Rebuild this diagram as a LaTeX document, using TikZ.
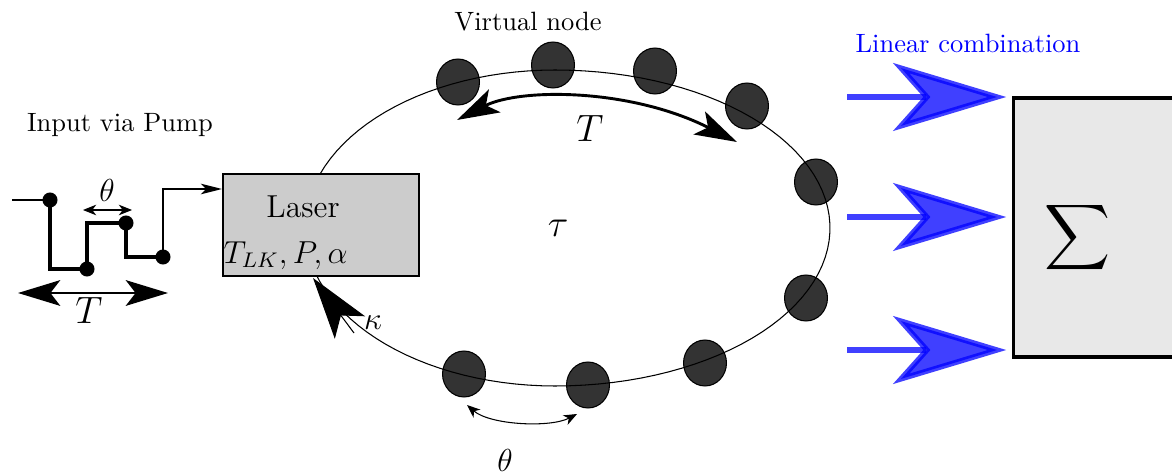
\documentclass[tikz,border=0pt]{standalone}
\usepackage{amsmath}
\usetikzlibrary{arrows.meta, shapes.geometric}
\tikzset{
  vnode/.style={ellipse, draw=black, fill=black!80, minimum width=0.57cm, minimum height=0.61cm, inner sep=0pt},
  joint/.style={circle, fill=black, minimum size=0.2cm, inner sep=0pt},
  pulse/.style={line width=1.4pt},
  ring/.style={thin},
  bigtip/.style={line width=1.1pt, {Stealth[length=0.56cm, width=0.34cm, inset=0.13cm]}-{Stealth[length=0.56cm, width=0.34cm, inset=0.13cm]}},
  smalltip/.style={{Stealth[length=5pt, width=4pt, inset=1.5pt]}-{Stealth[length=5pt, width=4pt, inset=1.5pt]}},
  readout/.style={blue, opacity=0.75, line width=2pt, shorten >=0.08cm, -{Stealth[length=1.5cm, width=0.9cm, inset=0.4cm]}}
}

\begin{document}
\begin{tikzpicture}[x=0.01328cm, y=-0.01328cm]
	\useasboundingbox (0,0) rectangle (1172,474);
	% virtual nodes on the delay loop
	\foreach \i/\px/\py in {1/458/82, 2/553/65, 3/655/71, 4/747/106, 5/816/182, 6/806/298, 7/705/363, 8/588/385, 9/464/374}
		\node[vnode] (v\i) at (\px,\py) {};
	\draw[ring] plot[domain=90:270, samples=60] ({555+250*cos(\x)}, {228+158*sin(\x)});
	\draw[ring] plot[domain=-90:90, samples=60] ({555+275*cos(\x)}, {228+158*sin(\x)});
	\node (vlabel) at (528,22) {Virtual node};
	\node (tau) at (558,228) {\Large $\tau$};
	% laser
	\node[draw, thick, fill=black!20, minimum width=2.6cm, minimum height=1.355cm, inner sep=0pt] (laser) at (321,225) {};
	\node[anchor=base] (lasername) at (303,217) {\large Laser};
	\node[anchor=base west, inner sep=0pt] (laserpar) at (223,263) {\large $T_{LK},P,\alpha$};
	% feedback
	\coordinate (kb) at (354,333);
	\coordinate (kt) at (313,278);
	\draw[ring, -{Stealth[length=0.82cm, width=0.5cm, inset=0.2cm]}] (kb) -- (kt);
	\node (kappa) at (373,323) {\large $\kappa$};
	% clock cycle and node spacing
	\coordinate (ra) at (457,120);
	\coordinate (rb) at (737,142);
	\draw[bigtip] (ra) .. controls (520,88) and (630,88) .. (rb);
	\node (Tloop) at (590,128) {\Large $T$};
	\coordinate (ba) at (467,405);
	\coordinate (bb) at (577,414);
	\draw[thin, smalltip] (ba) .. controls (490,425) and (550,428) .. (bb);
	\node (thloop) at (505,460) {\large $\theta$};
	% input
	\node (pump) at (120,125) {Input via Pump};
	\coordinate (pin) at (12,200);
	\coordinate (lasin) at (222,189);
	\foreach \i/\px/\py in {1/50/200, 2/87/269, 3/126/223, 4/163/257}
		\node[joint] (p\i) at (\px,\py) {};
	\draw[semithick] (pin) -- (p1.center);
	\draw[pulse] (p1.center) |- (p2.center) |- (p3.center) |- (p4.center);
	\draw[thick, -{Stealth[length=8pt, width=4pt, inset=2pt]}] (p4.center) |- (lasin);
	\coordinate (tha) at (83,210);
	\coordinate (thb) at (132,210);
	\draw[smalltip] (tha) -- (thb);
	\node (thin) at (107,190) {\large $\theta$};
	\coordinate (Ta) at (18,293);
	\coordinate (Tb) at (168,293);
	\draw[bigtip] (Ta) -- (Tb);
	\node (Tin) at (89,310) {\Large $T$};
	% readout
	\node[draw, line width=1.2pt, fill=black!9, minimum width=2.66cm, minimum height=3.44cm, inner sep=0pt] (sigma) at (1114,227.5) {};
	\node (sum) at (1078,238) {\LARGE $\displaystyle\sum$};
	\node[blue] (lincomb) at (968,43) {Linear combination};
	\foreach \i/\py in {1/97, 2/217, 3/350} {
		\coordinate (ro\i) at (847,\py);
		\draw[readout] (ro\i) -- (sigma.west |- ro\i);
	}
\end{tikzpicture}
\end{document}
